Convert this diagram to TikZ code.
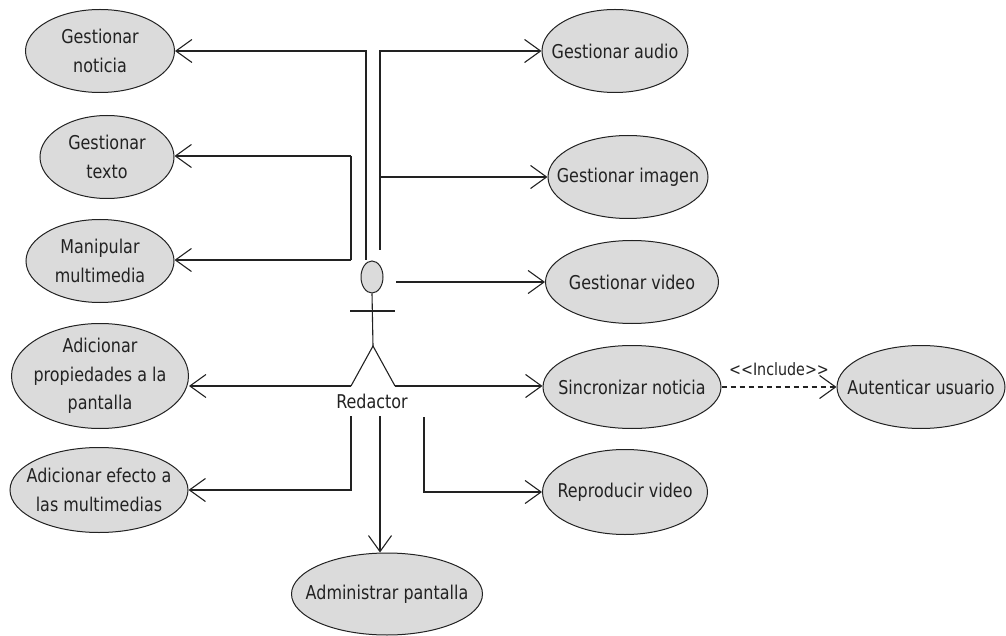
\documentclass[tikz,border=0pt]{standalone}
\usepackage{fontspec}
\setmainfont[FakeStretch=0.84]{DejaVu Sans}
\usepackage{tikz}
\usetikzlibrary{arrows.meta,shapes.geometric,positioning,calc}
\definecolor{griscu}{RGB}{219,219,219}
\definecolor{trazo}{RGB}{34,34,34}

\begin{document}
\begin{tikzpicture}[x=1pt,y=-1pt,
  cu/.style={ellipse,draw=trazo,fill=griscu,line width=1pt,inner xsep=-22pt,inner ysep=-10pt,minimum height=83,align=center,
    text=trazo,font=\fontsize{19}{28.5}\selectfont},
  lien/.style={draw=trazo,line width=1.1pt},
  fleche/.style={lien,-{Straight Barb[length=16pt,width=23pt]}}]
\useasboundingbox (0,0) rectangle (1006,636);
% casos de uso a la izquierda
\node (noticia) at (100,51) [cu,minimum width=149] {Gestionar\\noticia};
\node (texto) at (107,157) [cu,minimum width=134] {Gestionar\\texto};
\node (multi) at (100,261) [cu,minimum width=148] {Manipular\\multimedia};
\node (prop) at (100,376) [cu,minimum width=177,minimum height=105] {Adicionar\\propiedades a la\\pantalla};
\node (efecto) at (99,490) [cu,minimum width=178,minimum height=85] {Adicionar efecto a\\las multimedias};
\node (admin) at (387,594) [cu,minimum width=191,minimum height=82] {Administrar pantalla};
% casos de uso a la derecha
\node (audio) at (615,51) [cu,minimum width=146] {Gestionar audio};
\node (imagen) at (628,177) [cu,minimum width=160] {Gestionar imagen};
\node (video) at (632,282) [cu,minimum width=173] {Gestionar video};
\node (sinc) at (632,387) [cu,minimum width=178] {Sincronizar noticia};
\node (repro) at (625,492) [cu,minimum width=165,minimum height=85] {Reproducir video};
\node (auth) at (921,387) [cu,minimum width=168] {Autenticar usuario};

% el actor
\node (cabeza) at (372,277) [ellipse,draw=trazo,fill=griscu,line width=1pt,inner sep=0pt,minimum width=22,minimum height=32] {};
\coordinate (cadera) at (373,346);
\coordinate (pieI) at (351,386);
\coordinate (pieD) at (395,386);
\draw[lien] (cabeza.south) -- (cadera);
\draw[lien] (350,311) -- (395,311);
\draw[lien] (pieI) -- (cadera) -- (pieD);
\node (actor) at (372,401) [text=trazo,font=\fontsize{19}{22}\selectfont] {Redactor};

% asociaciones
\coordinate (an) at (366,260);
\coordinate (aa) at (380,250);
\coordinate (av) at (396,282);
\coordinate (tx) at (351,156);
\coordinate (mm) at (351,260);
\coordinate (ae) at (351,416);
\coordinate (ap) at (380,416);
\coordinate (ar) at (424,417);

\draw[fleche] (an) |- (noticia);
\draw[fleche] (aa) |- (audio);
\draw[fleche] (aa |- imagen) -- (imagen);
\draw[fleche] (av) -- (video);
\draw[fleche] (tx) -- (tx -| texto.east);
\draw[lien] (tx) -- (mm);
\draw[fleche] (mm) -- (mm -| multi.east);
\draw[fleche] (pieI) -- (pieI -| prop.east);
\draw[fleche] (pieD) -- (pieD -| sinc.west);
\draw[fleche] (ae) |- (efecto);
\draw[fleche] (ap) -- (ap |- admin.north);
\draw[fleche] (ar) |- (repro);

% include
\draw[fleche,dash pattern=on 5pt off 4pt] (sinc) -- (auth) node[midway,above=7pt,text=trazo,font=\fontsize{17}{20}\selectfont] {<\kern0pt<Include>\kern0pt>};
\end{tikzpicture}
\end{document}
